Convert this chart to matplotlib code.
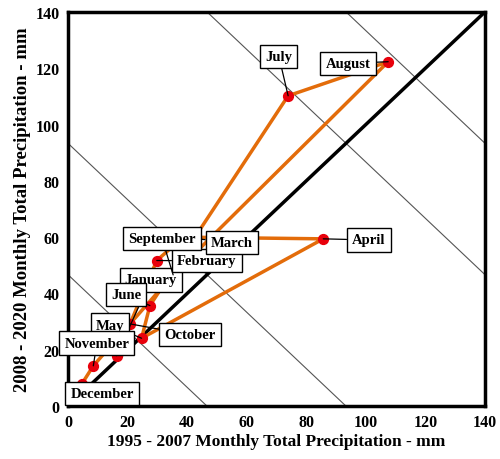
import numpy as np
import matplotlib
matplotlib.use("Agg")
import matplotlib.pyplot as plt

# Monthly totals (mm): 1995-2007 on x, 2008-2020 on y
months = ["January", "February", "March", "April", "May", "June",
          "July", "August", "September", "October", "November", "December"]
precip_1995_2007 = [16.3, 29.8, 38.7, 85.7, 24.7, 27.5, 73.9, 107.5, 35.3, 20.8, 8.5, 4.6]
precip_2008_2020 = [17.9, 51.7, 60.0, 59.4, 24.1, 35.7, 110.2, 122.3, 46.6, 29.2, 14.3, 7.8]

# where each month's text box sits (data units)
label_x = [27.8, 46.6, 55.0, 101.0, 14.1, 19.5, 70.8, 94.0, 31.6, 41.0, 9.7, 11.4]
label_y = [44.8, 51.6, 58.0, 59.0, 28.8, 39.5, 124.2, 121.7, 59.4, 25.3, 22.4, 4.6]

# constant-total guide lines (x + y = c)
guide_totals = [46.67, 93.33, 186.67, 233.33]

ticks = [0, 20, 40, 60, 80, 100, 120, 140]

serif = ["Liberation Serif", "DejaVu Serif"]

fig = plt.figure(figsize=(5.0, 4.6), dpi=100)
ax = fig.add_axes([0.136, 0.115, 0.834, 0.857])

xx = np.array([0, 140])
for c in guide_totals:
    ax.plot(xx, c - xx, color="#555555", lw=0.8, zorder=1)

ax.plot(xx, xx, color="black", lw=2.5, zorder=2)

ax.plot(precip_1995_2007, precip_2008_2020, color="#E36C0A", lw=2.5, zorder=3)
ax.scatter(precip_1995_2007, precip_2008_2020, s=50, color="#E8000B", zorder=4)

for m, x, y, lx, ly in zip(months, precip_1995_2007, precip_2008_2020, label_x, label_y):
    ax.annotate(m, xy=(x, y), xytext=(lx, ly), ha="center", va="center",
                fontsize=10.5, fontweight="bold", family=serif, zorder=5,
                bbox=dict(boxstyle="square,pad=0.35", fc="white", ec="black", lw=1),
                arrowprops=dict(arrowstyle="-", color="black", lw=0.9,
                                shrinkA=0, shrinkB=0))

ax.set_xlim(0, 140)
ax.set_ylim(0, 140)
ax.set_xticks(ticks)
ax.set_yticks(ticks)
ax.tick_params(length=0, pad=6)
for lab in ax.get_xticklabels() + ax.get_yticklabels():
    lab.set_family(serif)
    lab.set_fontweight("bold")
    lab.set_fontsize(11.5)
for sp in ax.spines.values():
    sp.set_linewidth(2.5)

ax.set_xlabel("1995 - 2007 Monthly Total Precipitation - mm", family=serif,
              fontweight="bold", fontsize=12.5, labelpad=2)
ax.set_ylabel("2008 - 2020 Monthly Total Precipitation - mm", family=serif,
              fontweight="bold", fontsize=13.5, labelpad=3)

fig.savefig("out.png", dpi=100)
